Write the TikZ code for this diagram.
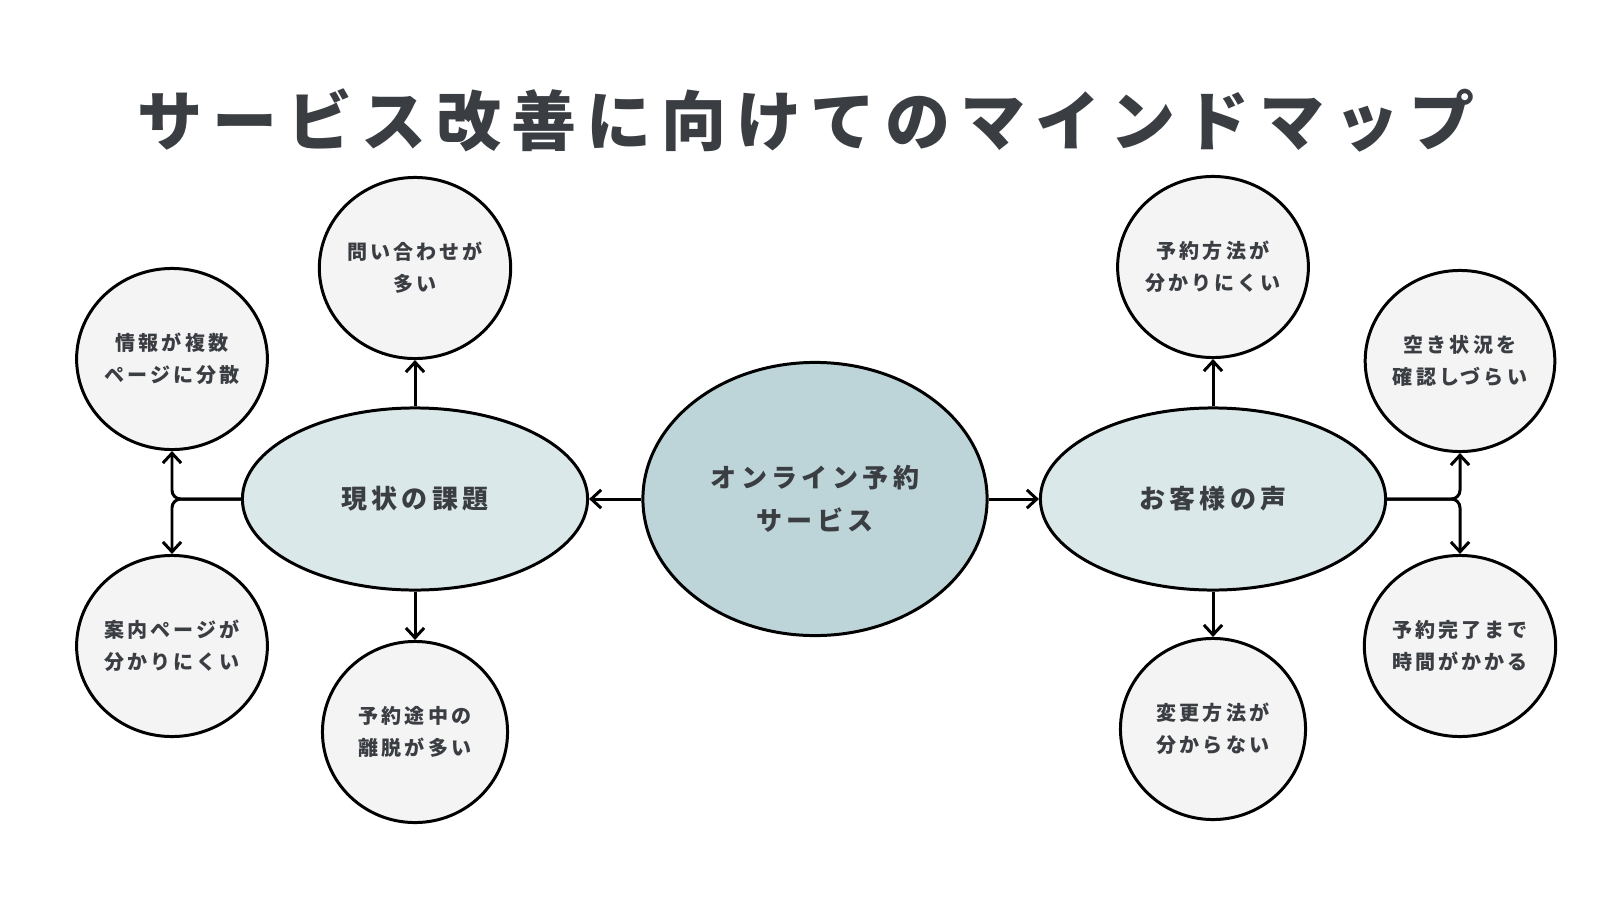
\documentclass[tikz,border=0pt]{standalone}
\usepackage{fontspec}
\setmainfont{Noto Sans CJK JP}
\usetikzlibrary{shapes.geometric,arrows.meta}
\definecolor{txt}{HTML}{3A3D42}
\definecolor{coreC}{HTML}{BDD5D8}
\definecolor{subC}{HTML}{DAE8E9}
\definecolor{leafC}{HTML}{F4F4F4}
\begin{document}
\begin{tikzpicture}[x=0.01cm,y=-0.01cm,
  every node/.style={text=txt},
  core/.style={ellipse,draw=black,line width=0.85pt,fill=coreC,minimum width=3.44cm,minimum height=2.73cm,inner sep=0pt,align=center,
    font=\fontsize{7.4}{12.2}\selectfont\bfseries\addfontfeatures{LetterSpace=17}},
  sub/.style={ellipse,draw=black,line width=0.85pt,fill=subC,minimum width=3.45cm,minimum height=1.82cm,inner sep=0pt,align=center,
    font=\fontsize{7.4}{12.2}\selectfont\bfseries\addfontfeatures{LetterSpace=17}},
  leaf/.style={ellipse,draw=black,line width=0.85pt,fill=leafC,minimum width=1.85cm,minimum height=1.81cm,inner sep=0pt,align=center,
    font=\fontsize{5.7}{9.1}\selectfont\bfseries\addfontfeatures{LetterSpace=15}},
  conn/.style={line width=0.85pt,-{Straight Barb[length=2.8pt,width=5.2pt]}},
  ttl/.style={font=\fontsize{18.5}{22}\selectfont\bfseries\addfontfeatures{LetterSpace=15}}
]
\fill[white] (0,0) rectangle (1600,900);
\useasboundingbox (0,0) rectangle (1600,900);

\node[ttl] (title) at (806,120) {サービス改善に向けてのマインドマップ};

\node[core] (c) at (815,499) {オンライン予約\\サービス};
\node[sub] (L) at (415,499) {現状の課題};
\node[sub] (R) at (1213,499) {お客様の声};

\node[leaf] (l1) at (415,268) {問い合わせが\\多い};
\node[leaf] (l2) at (172,359) {情報が複数\\ページに分散};
\node[leaf] (l3) at (172,646) {案内ページが\\分かりにくい};
\node[leaf] (l4) at (415,732) {予約途中の\\離脱が多い};
\node[leaf] (r1) at (1213,267) {予約方法が\\分かりにくい};
\node[leaf] (r2) at (1460,361) {空き状況を\\確認しづらい};
\node[leaf] (r3) at (1460,646) {予約完了まで\\時間がかかる};
\node[leaf] (r4) at (1213,729) {変更方法が\\分からない};

\draw[conn] (c) -- (L);
\draw[conn] (c) -- (R);
\draw[conn] (L.north) -- (l1.south);
\draw[conn] (L.south) -- (l4.north);
\draw[conn] (R.north) -- (r1.south);
\draw[conn] (R.south) -- (r4.north);
\draw[conn,rounded corners=2.5pt] (L.west) -| (l2.south);
\draw[conn,rounded corners=2.5pt] (L.west) -| (l3.north);
\draw[conn,rounded corners=2.5pt] (R.east) -| (r2.south);
\draw[conn,rounded corners=2.5pt] (R.east) -| (r3.north);
\end{tikzpicture}
\end{document}
